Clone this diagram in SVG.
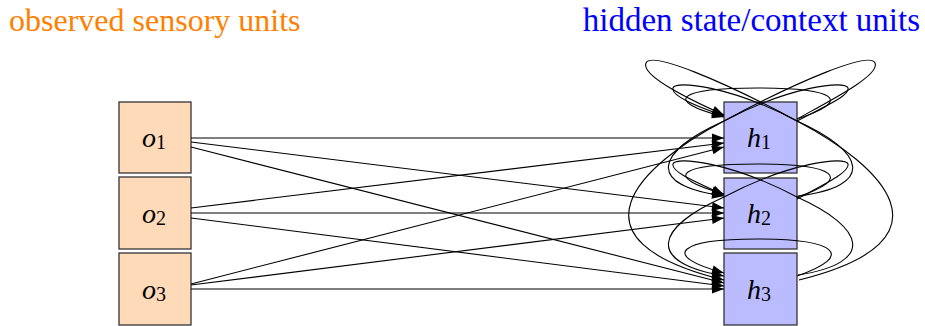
<svg xmlns="http://www.w3.org/2000/svg" width="925" height="326" viewBox="0 0 925 326">
<style>
.o rect{fill:#ffdab9;stroke:#333;stroke-width:1.3}
.h rect{fill:#bbbbff;stroke:#333;stroke-width:1.3}
.lbl{font-size:28px;fill:#000}
.sub{font-style:normal;font-size:20px}
.e path,.e line{fill:none;stroke:#000;stroke-width:1.1;marker-end:url(#arr)}
</style>
<defs>
<marker id="arr" markerUnits="userSpaceOnUse" markerWidth="14" markerHeight="10" refX="12" refY="4.5" orient="auto" overflow="visible">
<path d="M0,0 L12,4.5 L0,9 z" fill="#000"/>
</marker>
</defs>
<text font-family="'Liberation Serif', 'Tinos', 'Nimbus Roman', 'DejaVu Serif', serif" font-size="32" x="9" y="31" fill="#ff8000">observed sensory units</text>
<text font-family="'Liberation Serif', 'Tinos', 'Nimbus Roman', 'DejaVu Serif', serif" font-size="33" x="920" y="31" fill="#0000ff" text-anchor="end">hidden state/context units</text>
<g id="o1" class="o"><rect x="119" y="102" width="72" height="71"/><text class="lbl" font-family="'Liberation Serif', 'Tinos', 'DejaVu Serif', serif" x="154" y="147" text-anchor="middle"><tspan font-style="italic">o</tspan><tspan class="sub" dy="2">1</tspan></text></g>
<g id="o2" class="o"><rect x="119" y="177" width="72" height="72"/><text class="lbl" font-family="'Liberation Serif', 'Tinos', 'DejaVu Serif', serif" x="154" y="223" text-anchor="middle"><tspan font-style="italic">o</tspan><tspan class="sub" dy="2">2</tspan></text></g>
<g id="o3" class="o"><rect x="119" y="253" width="72" height="72"/><text class="lbl" font-family="'Liberation Serif', 'Tinos', 'DejaVu Serif', serif" x="154" y="299" text-anchor="middle"><tspan font-style="italic">o</tspan><tspan class="sub" dy="2">3</tspan></text></g>
<g id="h1" class="h"><rect x="724" y="102" width="73" height="71"/><text class="lbl" font-family="'Liberation Serif', 'Tinos', 'DejaVu Serif', serif" x="759" y="147" text-anchor="middle"><tspan font-style="italic">h</tspan><tspan class="sub" dy="2">1</tspan></text></g>
<g id="h2" class="h"><rect x="724" y="178" width="73" height="71"/><text class="lbl" font-family="'Liberation Serif', 'Tinos', 'DejaVu Serif', serif" x="759" y="223" text-anchor="middle"><tspan font-style="italic">h</tspan><tspan class="sub" dy="2">2</tspan></text></g>
<g id="h3" class="h"><rect x="724" y="253" width="73" height="72"/><text class="lbl" font-family="'Liberation Serif', 'Tinos', 'DejaVu Serif', serif" x="759" y="299" text-anchor="middle"><tspan font-style="italic">h</tspan><tspan class="sub" dy="2">3</tspan></text></g>
<g id="connectors" class="e">
<line x1="191" y1="138" x2="724" y2="138"/>
<line x1="191" y1="142" x2="724" y2="208"/>
<line x1="191" y1="147" x2="724" y2="283"/>
<line x1="191" y1="208" x2="724" y2="143"/>
<line x1="191" y1="213" x2="724" y2="213"/>
<line x1="191" y1="218" x2="724" y2="286"/>
<line x1="191" y1="284" x2="724" y2="147"/>
<line x1="191" y1="285" x2="724" y2="218"/>
<line x1="191" y1="289" x2="724" y2="289"/>
<path d="M797,119 C855,100 835,88 757,88 C680,88 660,100 724,117"/>
<path d="M797,197 C855,178 835,164 757,164 C680,164 660,176 724,194"/>
<path d="M797,276 C857,255 835,239 757,239 C680,239 658,255 724,273"/>
<path d="M797,121 C825,106 850,96 848,88 C846,80 790,86 724,121 C655,152 645,185 724,196"/>
<path d="M797,199 C825,184 850,172 848,164 C846,156 790,162 724,197 C655,228 645,262 724,276"/>
<path d="M797,119 C835,98 880,75 875,63 C870,51 800,80 724,121 C640,165 560,240 724,280"/>
<path d="M798,196 C876,186 866,152 797,121 C731,86 675,80 673,88 C671,96 696,106 724,116"/>
<path d="M798,275 C876,263 866,228 797,197 C731,162 675,156 673,164 C671,172 696,182 724,195"/>
<path d="M799,280 C961,240 881,165 797,121 C721,80 651,51 646,63 C641,75 686,98 724,115"/>
</g>
</svg>
